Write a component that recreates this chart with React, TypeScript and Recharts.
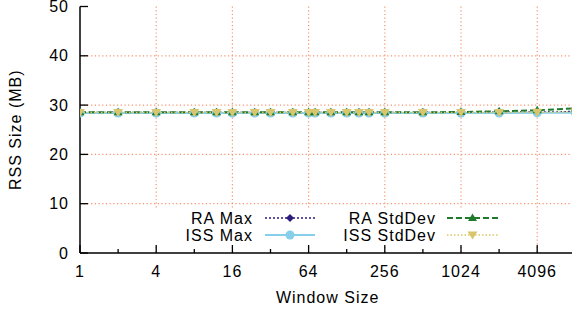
import React from "react";
import { CartesianGrid, Line, LineChart, XAxis, YAxis } from "recharts";

// window sizes on the x axis (log2 scale)
const windowSizes = [1, 2, 4, 8, 12, 16, 24, 32, 48, 64, 72, 96, 128, 160, 192, 256, 512, 1024, 2048, 4096, 8192];
const raMax = [28.5, 28.5, 28.5, 28.5, 28.5, 28.5, 28.5, 28.5, 28.5, 28.5, 28.5, 28.5, 28.5, 28.5, 28.5, 28.5, 28.5, 28.5, 28.55, 28.6, 28.7];
const issMax = [28.4, 28.4, 28.4, 28.4, 28.4, 28.4, 28.4, 28.4, 28.4, 28.4, 28.4, 28.4, 28.4, 28.4, 28.4, 28.4, 28.4, 28.4, 28.4, 28.45, 28.45];
const raStdDev = [28.55, 28.55, 28.55, 28.55, 28.55, 28.55, 28.55, 28.55, 28.55, 28.55, 28.55, 28.55, 28.55, 28.55, 28.55, 28.55, 28.55, 28.6, 28.75, 28.95, 29.35];
const issStdDev = [28.5, 28.5, 28.5, 28.5, 28.5, 28.5, 28.5, 28.5, 28.5, 28.5, 28.5, 28.5, 28.5, 28.5, 28.5, 28.5, 28.5, 28.5, 28.5, 28.55, 28.6];

const xTicks = [1, 2, 4, 8, 16, 32, 64, 128, 256, 512, 1024, 2048, 4096, 8192];
const xLabels = [1, 4, 16, 64, 256, 1024, 4096];
const yTicks = [0, 10, 20, 30, 40, 50];

const data = windowSizes.map((w, i) => ({
  w,
  raMax: raMax[i],
  issMax: issMax[i],
  raStdDev: raStdDev[i],
  issStdDev: issStdDev[i],
}));

const FONT = "'Liberation Sans', Arial, Helvetica, sans-serif";
const GRID = "#f7936f";

type Marker = "diamond" | "circle" | "up" | "down";

const series: { key: string; name: string; color: string; markColor: string; dash?: string; width: number; marker: Marker }[] = [
  { key: "raMax", name: "RA Max", color: "#2b1d80", markColor: "#2b1d80", dash: "2 2", width: 1.5, marker: "diamond" },
  { key: "issMax", name: "ISS Max", color: "#87ceeb", markColor: "#87ceeb", width: 2, marker: "circle" },
  { key: "raStdDev", name: "RA StdDev", color: "#1f7a2c", markColor: "#1f7a2c", dash: "6 3", width: 2, marker: "up" },
  { key: "issStdDev", name: "ISS StdDev", color: "#dcc866", markColor: "#d9c56c", dash: "1.5 2", width: 1.5, marker: "down" },
];

function drawMarker(m: Marker, cx: number, cy: number, color: string, key?: string | number) {
  if (m === "circle") return <circle key={key} cx={cx} cy={cy} r={4.5} fill={color} />;
  if (m === "diamond")
    return <polygon key={key} points={`${cx},${cy - 4} ${cx + 4},${cy} ${cx},${cy + 4} ${cx - 4},${cy}`} fill={color} />;
  if (m === "up")
    return <polygon key={key} points={`${cx},${cy - 4.5} ${cx + 4.5},${cy + 3} ${cx - 4.5},${cy + 3}`} fill={color} />;
  return <polygon key={key} points={`${cx - 5},${cy - 3.5} ${cx + 5},${cy - 3.5} ${cx},${cy + 4.5}`} fill={color} />;
}

const textStyle = { fontFamily: FONT, fontSize: 16, letterSpacing: 1, fill: "#000" };

function BottomTick({ x, y, payload }: any) {
  const major = xLabels.includes(payload.value);
  return (
    <g>
      <line x1={x} x2={x} y1={y} y2={y - (major ? 8 : 4)} stroke="#000" strokeWidth={1.3} />
      {major && (
        <text x={x} y={y + 18} textAnchor="middle" dominantBaseline="central" style={textStyle}>
          {payload.value}
        </text>
      )}
    </g>
  );
}

function TopTick({ x, y, payload }: any) {
  const major = xLabels.includes(payload.value);
  return <line x1={x} x2={x} y1={y} y2={y + (major ? 8 : 4)} stroke="#000" strokeWidth={1.3} />;
}

function LeftTick({ x, y, payload }: any) {
  return (
    <g>
      <line x1={x} x2={x + 8} y1={y} y2={y} stroke="#000" strokeWidth={1.3} />
      <text x={x - 11} y={y} textAnchor="end" dominantBaseline="central" style={textStyle}>
        {payload.value}
      </text>
    </g>
  );
}

function RightTick({ x, y }: any) {
  return <line x1={x} x2={x - 8} y1={y} y2={y} stroke="#000" strokeWidth={1.3} />;
}

function KeyBox() {
  const colRight = [253, 436];
  const lineStart = [265, 447];
  const lineEnd = [315, 498];
  const rowY = [218, 235];
  return (
    <svg width={572} height={309} style={{ position: "absolute", left: 0, top: 0, pointerEvents: "none" }}>
      <rect x={140} y={208} width={378} height={37} fill="#fff" />
      {series.map((s, i) => {
        const col = Math.floor(i / 2) === 0 ? (i === 0 ? 0 : 0) : 1;
        const c = i === 0 || i === 1 ? 0 : 1;
        const r = i % 2;
        const mid = (lineStart[c] + lineEnd[c]) / 2;
        void col;
        return (
          <g key={s.key}>
            <text x={colRight[c]} y={rowY[r]} textAnchor="end" dominantBaseline="central" style={textStyle}>
              {s.name}
            </text>
            <line x1={lineStart[c]} x2={lineEnd[c]} y1={rowY[r]} y2={rowY[r]} stroke={s.color} strokeWidth={s.width} strokeDasharray={s.dash} />
            {drawMarker(s.marker, mid, rowY[r], s.markColor)}
          </g>
        );
      })}
    </svg>
  );
}

export default function App() {
  return (
    <div style={{ position: "absolute", left: 0, top: 0, width: 572, height: 309, overflow: "hidden", background: "#fff" }}>
      <LineChart width={580} height={309} data={data} margin={{ top: 6.5, right: 4.7, bottom: 0, left: 0 }}>
        <CartesianGrid
          stroke={GRID}
          strokeDasharray="1.2 2.5"
          strokeWidth={1.2}
          verticalValues={[4, 16, 64, 256, 1024, 4096]}
          horizontalValues={[10, 20, 30, 40]}
        />
        <XAxis
          dataKey="w"
          type="number"
          scale="log"
          domain={[1, 8192]}
          allowDataOverflow
          ticks={xTicks}
          interval={0}
          height={56}
          tickSize={0}
          tickMargin={0}
          tick={<BottomTick />}
          tickLine={false}
          axisLine={{ stroke: "#000", strokeWidth: 1.5 }}
          label={{
            content: ({ viewBox }: any) => (
              <text x={viewBox.x + viewBox.width / 2} y={297} textAnchor="middle" dominantBaseline="central" style={textStyle}>
                Window Size
              </text>
            ),
          }}
        />
        <XAxis
          xAxisId="top"
          orientation="top"
          dataKey="w"
          type="number"
          scale="log"
          domain={[1, 8192]}
          allowDataOverflow
          ticks={xTicks}
          interval={0}
          height={0}
          tickSize={0}
          tickMargin={0}
          tick={<TopTick />}
          tickLine={false}
          axisLine={{ stroke: "#000", strokeWidth: 1.5 }}
        />
        <YAxis
          type="number"
          domain={[0, 50]}
          ticks={yTicks}
          interval={0}
          width={80}
          tickSize={0}
          tickMargin={0}
          tick={<LeftTick />}
          tickLine={false}
          axisLine={{ stroke: "#000", strokeWidth: 1.5 }}
          label={{
            content: ({ viewBox }: any) => {
              const cx = 15;
              const cy = viewBox.y + viewBox.height / 2;
              return (
                <text x={cx} y={cy} transform={`rotate(-90, ${cx}, ${cy})`} textAnchor="middle" dominantBaseline="central" style={textStyle}>
                  RSS Size (MB)
                </text>
              );
            },
          }}
        />
        <YAxis
          yAxisId="right"
          orientation="right"
          type="number"
          domain={[0, 50]}
          ticks={yTicks}
          interval={0}
          width={0}
          tickSize={0}
          tickMargin={0}
          tick={<RightTick />}
          tickLine={false}
          axisLine={{ stroke: "#000", strokeWidth: 1.5 }}
        />
        {series.map((s) => (
          <Line
            key={s.key}
            dataKey={s.key}
            name={s.name}
            stroke={s.color}
            strokeWidth={s.width}
            strokeDasharray={s.dash}
            isAnimationActive={false}
            activeDot={false}
            dot={(p: any) => drawMarker(s.marker, p.cx, p.cy, s.markColor, `${s.key}-${p.index}`)}
          />
        ))}
      </LineChart>
      <KeyBox />
    </div>
  );
}
